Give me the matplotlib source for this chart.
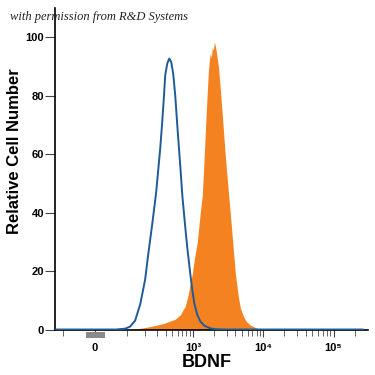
import numpy as np
import matplotlib
matplotlib.use("Agg")
import matplotlib.pyplot as plt

plt.rcParams["font.family"] = ["Liberation Sans", "DejaVu Sans"]

# isotype control (blue outline), fluorescence vs relative count
ctrl_x = [-140, 60, 93, 114, 138, 167, 199, 222, 255, 292, 335, 358, 380, 396, 424, 453,
          484, 517, 553, 591, 653, 698, 770, 823, 909, 971, 1037, 1145, 1263, 1442,
          1757, 2075, 3000, 260000]
ctrl_y = [0, 0, 0.3, 1, 3, 8.6, 17, 25.7, 36, 47, 62, 71, 80, 87, 91, 92.7,
          91.5, 87.5, 80, 70, 56, 46, 35, 28, 19, 13.5, 9, 5, 2.8, 1.3,
          0.4, 0.1, 0, 0]

# BDNF stained cells (orange filled)
bdnf_x = [-140, 100, 149, 238, 370, 553, 653, 770, 850, 909, 971, 1037, 1145, 1263,
          1350, 1442, 1540, 1645, 1700, 1757, 1815, 1877, 1940, 2005, 2070, 2140,
          2288, 2443, 2608, 2879, 3176, 3392, 3745, 4000, 4415, 4715, 5205, 5745,
          6546, 7226, 7977, 9098, 10730, 260000]
bdnf_y = [0, 0, 0.2, 1, 2, 3.5, 5, 8, 12, 16, 19, 24, 30, 40,
          46, 60, 75, 88, 92, 94.5, 93, 96.5, 95.5, 98.4, 97, 95,
          90, 82, 73, 59, 47, 39.5, 27, 19, 11, 7.3, 4.5, 2.7,
          1.5, 1, 0.5, 0.2, 0, 0]

# small grey marker under zero
zero_box_x = [-24, 27]

xticks = [0, 1e3, 1e4, 1e5]
xtick_labels = ["0", "10³", "10⁴", "10⁵"]
minor_ticks = [-100] + [m * 10 ** k for k in (2, 3, 4) for m in range(2 if k > 2 else 1, 10)] + [2e5]
yticks = [0, 20, 40, 60, 80, 100]

C = 80.0


def fwd(x):
    return np.arcsinh(np.asarray(x, dtype=float) / C) / np.log(10)


def inv(t):
    return C * np.sinh(np.asarray(t, dtype=float) * np.log(10))


fig = plt.figure(figsize=(3.75, 3.75), dpi=100)
ax = fig.add_axes([55 / 375, 1 - 329.5 / 375, 313 / 375, 321.5 / 375])
ax.set_xscale("function", functions=(fwd, inv))
ax.set_xlim(-138, 3.1e5)
ax.set_ylim(0, 110)

ax.fill_between(bdnf_x, bdnf_y, 0, color="#f58220", lw=0, zorder=2)
ax.plot(ctrl_x, ctrl_y, color="#1f5b99", lw=1.4, zorder=3)
ax.fill_between(zero_box_x, -3.0, -0.7, color="#8a8a8a", lw=0, clip_on=False, zorder=4)

for s in ("top", "right"):
    ax.spines[s].set_visible(False)
for s in ("left", "bottom"):
    ax.spines[s].set_linewidth(1.2)

ax.set_xticks(xticks)
ax.set_xticklabels(xtick_labels, fontsize=8, fontweight="bold")
ax.set_xticks(minor_ticks, minor=True)
ax.set_yticks(yticks)
ax.set_yticklabels([str(v) for v in yticks], fontsize=8, fontweight="bold")
ax.tick_params(axis="y", length=7, width=0.8, color="#444444", pad=1)
ax.tick_params(axis="x", which="major", length=5, width=0.8, color="#444444", pad=5)
ax.tick_params(axis="x", which="minor", length=4, width=0.7, color="#666666")

ax.set_xlabel("BDNF", fontsize=13, fontweight="bold")
ax.xaxis.set_label_coords(0.486, -0.075)
ax.set_ylabel("Relative Cell Number", fontsize=12, fontweight="bold")
ax.yaxis.set_label_coords(-0.106, 0.556)

fig.text(10 / 375, 1 - 20 / 375, "with permission from R&D Systems",
         family="Liberation Serif", style="italic", fontsize=9, color="#222222",
         va="baseline", ha="left")

fig.savefig("out.png", dpi=100)
